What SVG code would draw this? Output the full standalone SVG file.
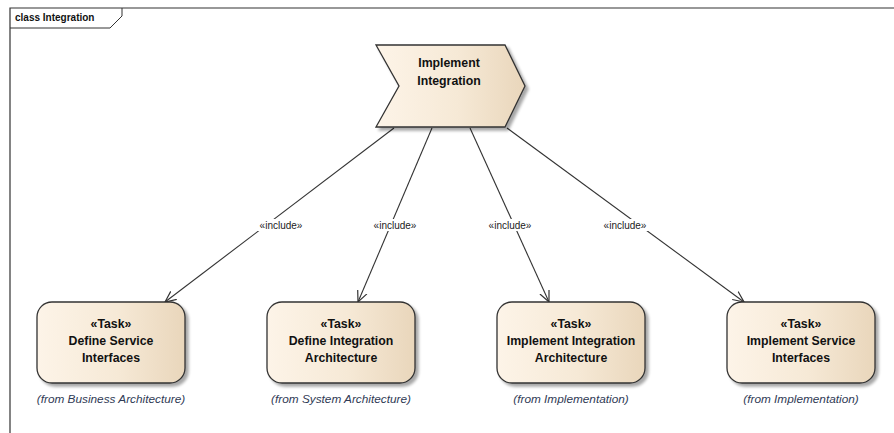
<svg xmlns="http://www.w3.org/2000/svg" width="894" height="433" viewBox="0 0 894 433">
<defs>
<linearGradient id="g" x1="0" y1="0" x2="1" y2="0">
<stop offset="0" stop-color="#fdf4e8"/>
<stop offset="0.55" stop-color="#f6e9d6"/>
<stop offset="1" stop-color="#e9d6bb"/>
</linearGradient>
<marker id="arr" viewBox="0 0 12 12" refX="11" refY="6" markerWidth="12" markerHeight="12" markerUnits="userSpaceOnUse" orient="auto">
<path d="M0,1 L11,6 L0,11" fill="none" stroke="#333" stroke-width="1.2"/>
</marker>
<filter id="sh" x="-10%" y="-10%" width="130%" height="130%">
<feGaussianBlur in="SourceAlpha" stdDeviation="1.5"/>
<feOffset dx="3" dy="3" result="b"/>
<feComponentTransfer><feFuncA type="linear" slope="0.35"/></feComponentTransfer>
<feMerge><feMergeNode/><feMergeNode in="SourceGraphic"/></feMerge>
</filter>
</defs>
<style>
.box{fill:url(#g);stroke:#333;stroke-width:1.3}
.t{font-family:"Liberation Sans",Arial,sans-serif;font-size:12.3px;font-weight:bold;fill:#111;text-anchor:middle}
.f{font-family:"Liberation Sans",Arial,sans-serif;font-size:11.8px;font-style:italic;fill:#2f3a55;text-anchor:middle}
.l{font-family:"Liberation Sans",Arial,sans-serif;font-size:10px;fill:#222;text-anchor:middle}
.c{stroke:#333;stroke-width:1.1;fill:none;marker-end:url(#arr)}
</style>
<rect width="894" height="433" fill="#fff"/>
<g id="frame">
<path d="M10,433 L10,8 L894,8" fill="none" stroke="#333" stroke-width="1.2"/>
<path d="M10,28 L110,28 L122,16 L122,8" fill="none" stroke="#333" stroke-width="1"/>
<text x="15" y="21" style="font-family:'Liberation Sans',Arial,sans-serif;font-size:10px;font-weight:bold;fill:#111">class Integration</text>
</g>
<g id="connectors">
<line class="c" x1="394" y1="128" x2="165" y2="302"/>
<line class="c" x1="432" y1="128" x2="358" y2="302"/>
<line class="c" x1="470" y1="128" x2="549" y2="302"/>
<line class="c" x1="507" y1="128" x2="744" y2="302"/>
<rect x="254" y="219" width="54" height="12" fill="#fff"/>
<rect x="368" y="219" width="54" height="12" fill="#fff"/>
<rect x="483" y="219" width="54" height="12" fill="#fff"/>
<rect x="598" y="219" width="54" height="12" fill="#fff"/>
<text class="l" x="281" y="229">«include»</text>
<text class="l" x="395" y="229">«include»</text>
<text class="l" x="510" y="229">«include»</text>
<text class="l" x="625" y="229">«include»</text>
</g>
<g id="implement-integration">
<path class="box" filter="url(#sh)" d="M376,45 L505,45 L525,86 L505,127 L376,127 L399,86 Z"/>
<text class="t" x="449" y="67">Implement</text>
<text class="t" x="449" y="85">Integration</text>
</g>
<g id="define-service-interfaces">
<rect class="box" filter="url(#sh)" x="37" y="302" width="148" height="81" rx="15"/>
<text class="t" x="111" y="328">«Task»</text>
<text class="t" x="111" y="345">Define Service</text>
<text class="t" x="111" y="362">Interfaces</text>
<text class="f" x="111" y="403">(from Business Architecture)</text>
</g>
<g id="define-integration-architecture">
<rect class="box" filter="url(#sh)" x="267" y="302" width="148" height="81" rx="15"/>
<text class="t" x="341" y="328">«Task»</text>
<text class="t" x="341" y="345">Define Integration</text>
<text class="t" x="341" y="362">Architecture</text>
<text class="f" x="341" y="403">(from System Architecture)</text>
</g>
<g id="implement-integration-architecture">
<rect class="box" filter="url(#sh)" x="497" y="302" width="148" height="81" rx="15"/>
<text class="t" x="571" y="328">«Task»</text>
<text class="t" x="571" y="345">Implement Integration</text>
<text class="t" x="571" y="362">Architecture</text>
<text class="f" x="571" y="403">(from Implementation)</text>
</g>
<g id="implement-service-interfaces">
<rect class="box" filter="url(#sh)" x="727" y="302" width="148" height="81" rx="15"/>
<text class="t" x="801" y="328">«Task»</text>
<text class="t" x="801" y="345">Implement Service</text>
<text class="t" x="801" y="362">Interfaces</text>
<text class="f" x="801" y="403">(from Implementation)</text>
</g>
</svg>
